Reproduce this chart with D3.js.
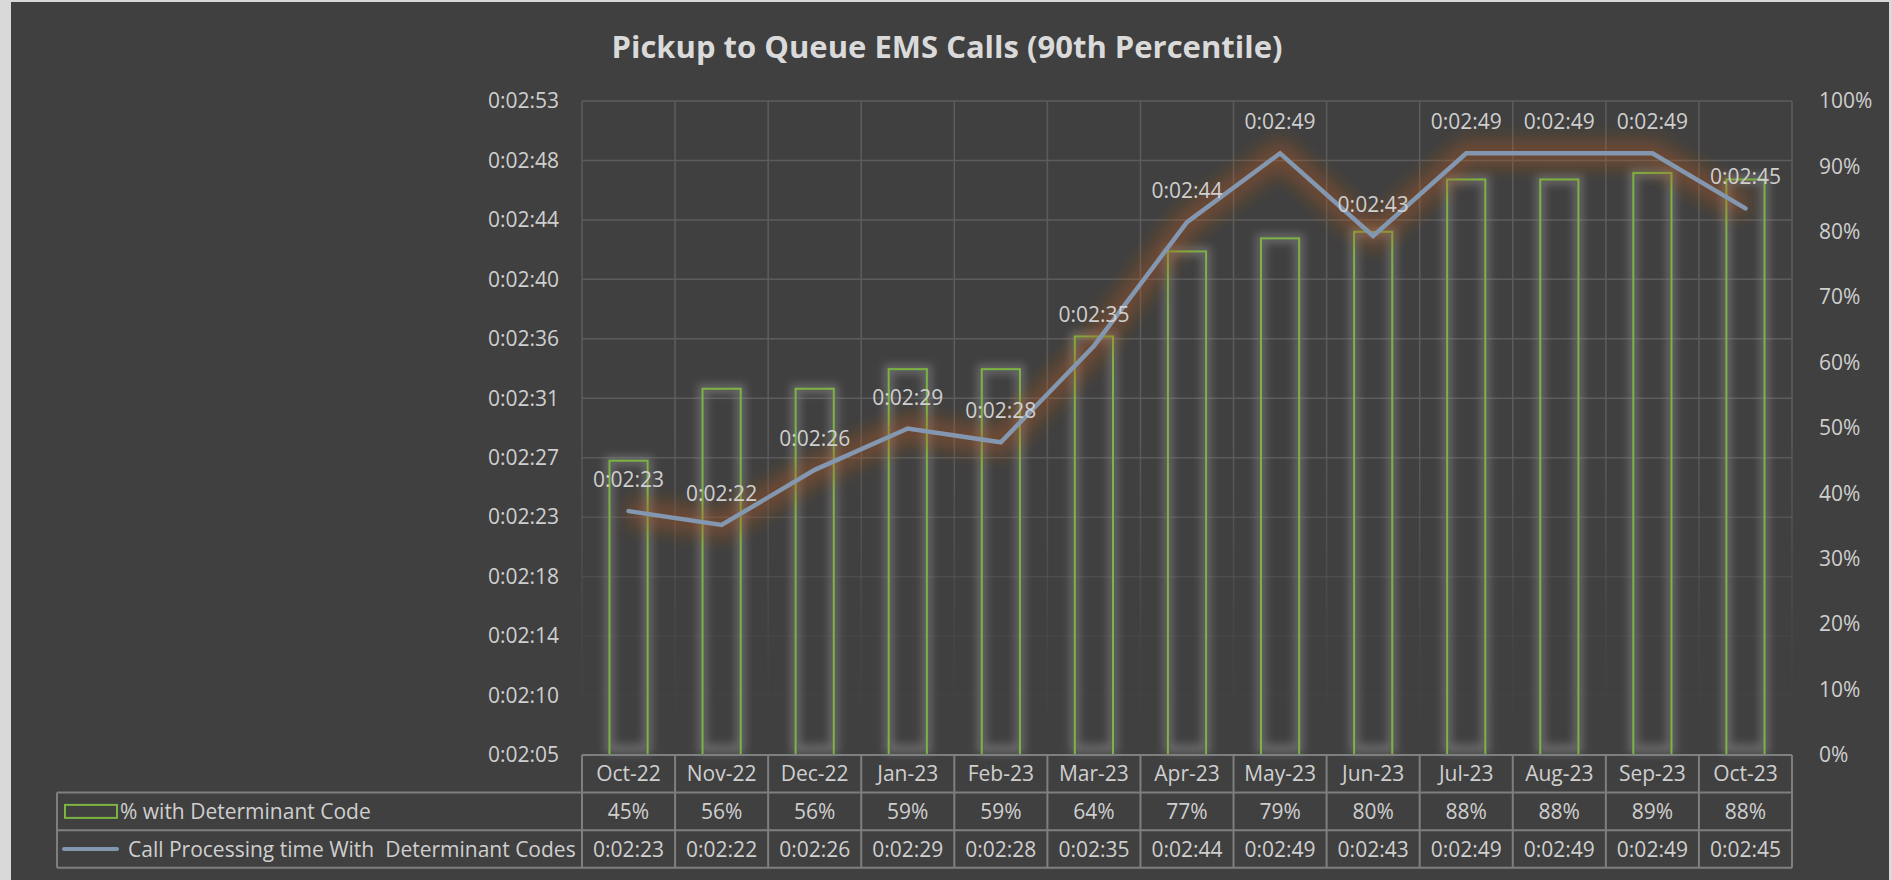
<!DOCTYPE html>
<html>
<head>
<meta charset="utf-8">
<script src="https://cdn.jsdelivr.net/npm/d3@7"></script>
<style>
  html, body { margin: 0; padding: 0; background: #d9d9d9; }
  svg { display: block; }
  text { font-family: "Open Sans", "Noto Sans", sans-serif; }
</style>
</head>
<body>
<svg id="chart" width="1892" height="880"></svg>
<script>
// ---- data ----
const title = "Pickup to Queue EMS Calls (90th Percentile)";
const categories = ["Oct-22","Nov-22","Dec-22","Jan-23","Feb-23","Mar-23","Apr-23","May-23","Jun-23","Jul-23","Aug-23","Sep-23","Oct-23"];
const pctWithCode = [45, 56, 56, 59, 59, 64, 77, 79, 80, 88, 88, 89, 88];            // %
const processingSeconds = [143, 142, 146, 149, 148, 155, 164, 169, 163, 169, 169, 169, 165]; // seconds
const leftTickLabels = ["0:02:05","0:02:10","0:02:14","0:02:18","0:02:23","0:02:27","0:02:31","0:02:36","0:02:40","0:02:44","0:02:48","0:02:53"];
const rightTickLabels = ["0%","10%","20%","30%","40%","50%","60%","70%","80%","90%","100%"];
const leftAxisMin = 125.28, leftAxisStep = 4.32; // seconds (Excel time axis)
const seriesNames = ["% with Determinant Code", "Call Processing time With  Determinant Codes"];

// ---- layout ----
const W = 1892, H = 880;
const plot = { left: 582, right: 1792, top: 101, bottom: 755 };
const rowH = 37.6;
const tableLeft = 57;

const svg = d3.select("#chart");
const defs = svg.append("defs");

const fmtTime = s => {
  const m = Math.floor(s / 60), sec = Math.round(s % 60);
  return "0:" + String(m).padStart(2, "0") + ":" + String(sec).padStart(2, "0");
};

// background
svg.append("rect").attr("x", 0).attr("y", 0).attr("width", W).attr("height", H).attr("fill", "#d9d9d9");
svg.append("rect").attr("x", 11).attr("y", 2).attr("width", 1878).attr("height", H - 2).attr("fill", "#404040");

// filters
const fLine = defs.append("filter").attr("id", "lineGlow").attr("filterUnits", "userSpaceOnUse")
  .attr("x", 500).attr("y", 40).attr("width", 1350).attr("height", 560);
fLine.append("feGaussianBlur").attr("stdDeviation", 9);
const fBar = defs.append("filter").attr("id", "barGlow").attr("x", "-50%").attr("y", "-10%").attr("width", "200%").attr("height", "120%");
fBar.append("feGaussianBlur").attr("stdDeviation", 4);

const grad = defs.append("linearGradient").attr("id", "gridFade")
  .attr("gradientUnits", "userSpaceOnUse").attr("x1", 0).attr("y1", plot.top).attr("x2", 0).attr("y2", plot.bottom);
[[0, 1], [0.5, 1], [0.72, 0.45], [0.85, 0.12], [1, 0]].forEach(([o, a]) =>
  grad.append("stop").attr("offset", o).attr("stop-color", "#5c5c5c").attr("stop-opacity", a));

// scales
const leftTicks = leftTickLabels.map((_, i) => leftAxisMin + i * leftAxisStep);
const yL = d3.scaleLinear().domain([leftTicks[0], leftTicks[leftTicks.length - 1]]).range([plot.bottom, plot.top]);
const yR = d3.scaleLinear().domain([0, 100]).range([plot.bottom, plot.top]);
const xCell = d3.scaleBand().domain(categories).range([plot.left, plot.right]).padding(0);
const xBar = d3.scaleBand().domain(categories).range([plot.left, plot.right]).paddingInner(0.59).paddingOuter(0.295);
const cx = c => xCell(c) + xCell.bandwidth() / 2;

// gridlines
const grid = svg.append("g").attr("stroke", "url(#gridFade)").attr("stroke-width", 1.5).attr("fill", "none");
grid.selectAll("line.h").data(leftTicks.slice(1)).join("line")
  .attr("x1", plot.left).attr("x2", plot.right).attr("y1", d => yL(d)).attr("y2", d => yL(d));
grid.selectAll("line.v").data(d3.range(categories.length + 1)).join("line")
  .attr("x1", i => plot.left + i * xCell.step()).attr("x2", i => plot.left + i * xCell.step())
  .attr("y1", plot.top).attr("y2", plot.bottom);

// left axis labels
const axL = svg.append("g").attr("transform", `translate(${559},0)`)
  .call(d3.axisLeft(yL).tickValues(leftTicks).tickFormat((d, i) => leftTickLabels[i]).tickSize(0).tickPadding(0));
axL.select(".domain").remove();
axL.selectAll("text").attr("fill", "#cfcfcf").attr("font-size", 21).attr("font-family", "Open Sans");

// right axis labels
const axR = svg.append("g").attr("transform", `translate(${1819},0)`)
  .call(d3.axisRight(yR).tickValues(d3.range(0, 101, 10)).tickFormat((d, i) => rightTickLabels[i]).tickSize(0).tickPadding(0));
axR.select(".domain").remove();
axR.selectAll("text").attr("fill", "#cfcfcf").attr("font-size", 21).attr("font-family", "Open Sans");

// bars
const bars = svg.append("g");
bars.selectAll("rect.glow").data(categories).join("rect").attr("class", "glow")
  .attr("x", c => xBar(c)).attr("width", xBar.bandwidth())
  .attr("y", (c, i) => yR(pctWithCode[i])).attr("height", (c, i) => plot.bottom - yR(pctWithCode[i]) - 6)
  .attr("fill", "none").attr("stroke", "#8c8c8c").attr("stroke-opacity", 0.55).attr("stroke-width", 9)
  .attr("filter", "url(#barGlow)");
bars.selectAll("rect.bar").data(categories).join("rect").attr("class", "bar")
  .attr("x", c => xBar(c)).attr("width", xBar.bandwidth())
  .attr("y", (c, i) => yR(pctWithCode[i])).attr("height", (c, i) => plot.bottom - yR(pctWithCode[i]))
  .attr("fill", "none").attr("stroke", "#7cb342").attr("stroke-width", 2);

// line
const lineGen = d3.line().x((d, i) => cx(categories[i])).y(d => yL(d));
svg.append("path").datum(processingSeconds).attr("d", lineGen)
  .attr("fill", "none").attr("stroke", "#b5571a").attr("stroke-opacity", 0.4).attr("stroke-width", 26)
  .attr("stroke-linejoin", "round").attr("filter", "url(#lineGlow)");
svg.append("path").datum(processingSeconds).attr("d", lineGen)
  .attr("fill", "none").attr("stroke", "#8497b0").attr("stroke-width", 4.5)
  .attr("stroke-linejoin", "miter").attr("stroke-linecap", "round");

// data labels
svg.append("g").selectAll("text").data(processingSeconds).join("text")
  .attr("x", (d, i) => cx(categories[i])).attr("y", d => yL(d) - 24)
  .attr("text-anchor", "middle").attr("fill", "#cfcfcf").attr("font-size", 21)
  .text(d => fmtTime(d));

// title
svg.append("text").attr("x", 947).attr("y", 58).attr("text-anchor", "middle")
  .attr("fill", "#dadada").attr("font-size", 31).attr("font-weight", 700).text(title);

// data table
const tbl = svg.append("g");
const tStroke = "#7f7f7f";
const rows = [plot.bottom, plot.bottom + rowH, plot.bottom + 2 * rowH, plot.bottom + 3 * rowH];
tbl.append("line").attr("x1", plot.left).attr("x2", plot.right).attr("y1", rows[0]).attr("y2", rows[0]).attr("stroke", tStroke).attr("stroke-width", 2);
rows.slice(1).forEach(y => tbl.append("line").attr("x1", tableLeft).attr("x2", plot.right).attr("y1", y).attr("y2", y).attr("stroke", tStroke).attr("stroke-width", 2));
d3.range(categories.length + 1).forEach(i => {
  const x = plot.left + i * xCell.step();
  tbl.append("line").attr("x1", x).attr("x2", x).attr("y1", rows[0]).attr("y2", rows[3]).attr("stroke", tStroke).attr("stroke-width", 2);
});
tbl.append("line").attr("x1", tableLeft).attr("x2", tableLeft).attr("y1", rows[1]).attr("y2", rows[3]).attr("stroke", tStroke).attr("stroke-width", 2);

const cellText = (row, vals) => tbl.append("g").selectAll("text").data(vals).join("text")
  .attr("x", (d, i) => cx(categories[i])).attr("y", (rows[row] + rows[row + 1]) / 2)
  .attr("dy", "0.36em").attr("text-anchor", "middle").attr("fill", "#cfcfcf").attr("font-size", 21)
  .text(d => d);
cellText(0, categories);
cellText(1, pctWithCode.map(v => v + "%"));
cellText(2, processingSeconds.map(fmtTime));

// legend keys in table
const r1 = (rows[1] + rows[2]) / 2, r2 = (rows[2] + rows[3]) / 2;
tbl.append("rect").attr("x", 65).attr("y", r1 - 6.5).attr("width", 52).attr("height", 13)
  .attr("fill", "none").attr("stroke", "#7cb342").attr("stroke-width", 2);
tbl.append("text").attr("x", 120).attr("y", r1).attr("dy", "0.36em").attr("fill", "#cfcfcf").attr("font-size", 21)
  .text(seriesNames[0]);
tbl.append("line").attr("x1", 64).attr("x2", 117).attr("y1", r2).attr("y2", r2)
  .attr("stroke", "#8497b0").attr("stroke-width", 4).attr("stroke-linecap", "round");
tbl.append("text").attr("x", 128).attr("y", r2).attr("dy", "0.36em").attr("fill", "#cfcfcf").attr("font-size", 21)
  .attr("xml:space", "preserve").style("white-space", "pre")
  .text(seriesNames[1]);
</script>
</body>
</html>
